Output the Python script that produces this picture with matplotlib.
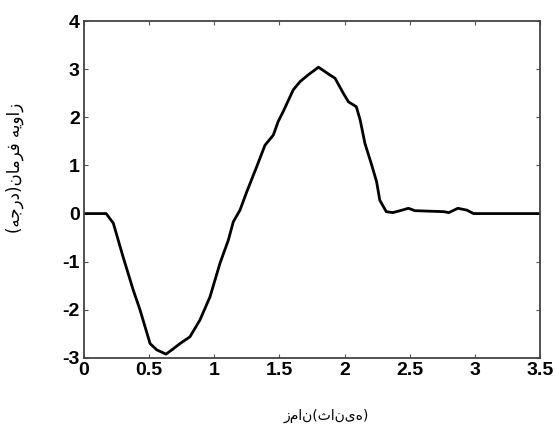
import numpy as np
import matplotlib
matplotlib.use('Agg')
import matplotlib.pyplot as plt

# steering angle vs time
t = [0, 0.17, 0.225, 0.30, 0.378, 0.43, 0.507, 0.558, 0.629, 0.68, 0.737,
     0.813, 0.89, 0.967, 1.044, 1.108, 1.146, 1.197, 1.249, 1.325, 1.389,
     1.453, 1.49, 1.529, 1.606, 1.658, 1.72, 1.80, 1.876, 1.927, 1.99, 2.03,
     2.09, 2.12, 2.156, 2.208, 2.246, 2.27, 2.32, 2.37, 2.44, 2.49, 2.54,
     2.76, 2.80, 2.87, 2.94, 2.99, 3.5]
angle = [0, 0, -0.20, -0.90, -1.59, -2.0, -2.70, -2.83, -2.92, -2.82, -2.70,
         -2.56, -2.21, -1.73, -1.03, -0.55, -0.17, 0.07, 0.45, 0.97, 1.42,
         1.63, 1.91, 2.12, 2.57, 2.74, 2.88, 3.04, 2.90, 2.81, 2.50, 2.32,
         2.22, 1.94, 1.46, 1.01, 0.66, 0.28, 0.04, 0.02, 0.07, 0.11, 0.06,
         0.04, 0.02, 0.11, 0.07, 0.0, 0.0]

xticks = [0, 0.5, 1, 1.5, 2, 2.5, 3, 3.5]
xticklabels = ['0', '0.5', '1', '1.5', '2', '2.5', '3', '3.5']
yticks = [-3, -2, -1, 0, 1, 2, 3, 4]

xlabel = 'زمان(ثانیه)'
# "زاویه فرمان(درجه)" as shaped glyphs in visual order (renderer does no bidi)
ylabel = ('(\uFEEA\uFE9F\uFEAD\uFEA9)\uFEE5\uFE8E\uFEE3\uFEAE\uFED3 '
          '\uFEEA\uFEF3\uFEED\uFE8D\uFEAF')

plt.rcParams['axes.unicode_minus'] = False

fig = plt.figure(figsize=(5.55, 4.3), dpi=100)
ax = fig.add_axes([84/555, 72/430, 456/555, 337/430])

ax.plot(t, angle, color='black', linewidth=2.0)

ax.set_xlim(0, 3.5)
ax.set_ylim(-3, 4)
ax.set_xticks(xticks)
ax.set_xticklabels(xticklabels)
ax.set_yticks(yticks)
for lab in ax.get_xticklabels() + ax.get_yticklabels():
    lab.set_family('Liberation Sans')
    lab.set_fontweight('bold')
    lab.set_fontsize(14)

ax.tick_params(direction='in', length=3, width=0.8, color='#555555',
               top=True, right=True, pad=3)
for s in ax.spines.values():
    s.set_color('#444444')
    s.set_linewidth(1.3)

fig.text(326/555, 1 - 416/430, xlabel, family='DejaVu Sans', fontsize=10,
         ha='center', va='center')
fig.text(15/555, 1 - 168/430, ylabel, family='DejaVu Sans', fontsize=12,
         ha='center', va='center', rotation=90)

plt.savefig('out.png', dpi=100)
